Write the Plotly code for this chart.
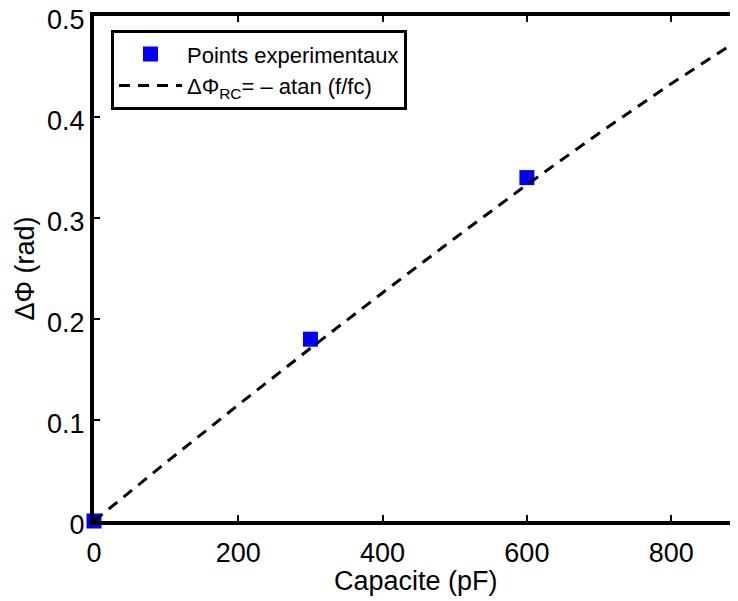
import plotly.graph_objects as go

# Experimental points
cap_exp = [0, 300, 600]
phi_exp = [0, 0.18, 0.34]

# Theoretical curve
cap_th = [0, 100, 200, 300, 400, 500, 600, 700, 800, 880]
phi_th = [0, 0.058, 0.115, 0.171, 0.226, 0.280, 0.333, 0.384, 0.433, 0.470]

x_ticks = [0, 200, 400, 600, 800]
y_ticks = [0, 0.1, 0.2, 0.3, 0.4, 0.5]
y_ticklabels = ["0", "0.1", "0.2", "0.3", "0.4", "0.5"]

x_title = "Capacite (pF)"
y_title = "ΔΦ (rad)"

FONT = "Liberation Sans, Arial, Helvetica, sans-serif"

fig = go.Figure()
fig.add_trace(go.Scatter(
    x=cap_exp, y=phi_exp, mode="markers", name="Points experimentaux",
    marker=dict(symbol="square", size=15, color="#0000ff", line=dict(width=0)),
    cliponaxis=False,
))
fig.add_trace(go.Scatter(
    x=cap_th, y=phi_th, mode="lines", name="ΔΦ<sub>RC</sub>= – atan (f/fc)",
    line=dict(color="black", width=3, dash="11px,8px"),
))

# top axis carrying frame line and ticks
fig.add_trace(go.Scatter(x=[0], y=[0], xaxis="x2", mode="markers",
                         marker=dict(opacity=0), showlegend=False, hoverinfo="skip"))

# page body has an 8px margin: figure is offset by 8px in the 738x601 window
fig.update_layout(
    width=730, height=593,
    margin=dict(l=86, r=0, t=8, b=80, autoexpand=False),
    paper_bgcolor="white", plot_bgcolor="white",
    font=dict(family=FONT, color="black", size=27),
    showlegend=True,
    legend=dict(
        x=0.0264, y=0.972, xanchor="left", yanchor="top",
        bordercolor="black", borderwidth=3, bgcolor="white",
        font=dict(size=22, family=FONT),
        tracegroupgap=0, itemwidth=63,
    ),
    xaxis=dict(
        range=[0, 892.6], tickvals=x_ticks, ticktext=[str(v) for v in x_ticks],
        automargin=False, ticklabeloverflow="allow",
        showgrid=False, zeroline=False, showline=True, linewidth=4, linecolor="black",
        ticks="inside", ticklen=6, tickwidth=2, tickcolor="black", ticklabelstandoff=5,
        tickfont=dict(size=27),
    ),
    xaxis2=dict(
        range=[0, 892.6], overlaying="x", side="top", anchor="y", matches="x",
        automargin=False,
        tickvals=x_ticks, showticklabels=False, showgrid=False, zeroline=False,
        showline=True, linewidth=4, linecolor="black",
        ticks="inside", ticklen=6, tickwidth=2, tickcolor="black",
    ),
    yaxis=dict(
        range=[0, 0.5], tickvals=y_ticks, ticktext=y_ticklabels,
        automargin=False, ticklabeloverflow="allow", ticklabelshift=4,
        showgrid=False, zeroline=False, showline=True, linewidth=4, linecolor="black",
        ticks="inside", ticklen=6, tickwidth=2, tickcolor="black",
        tickfont=dict(size=27), title=dict(text=y_title, font=dict(size=27), standoff=6),
    ),
    annotations=[dict(
        text=x_title, xref="paper", yref="paper", x=0.5, y=0,
        xanchor="center", yanchor="middle", yshift=-60, showarrow=False,
        font=dict(size=27, family=FONT, color="black"),
    )],
)

fig.write_html("out.html")
